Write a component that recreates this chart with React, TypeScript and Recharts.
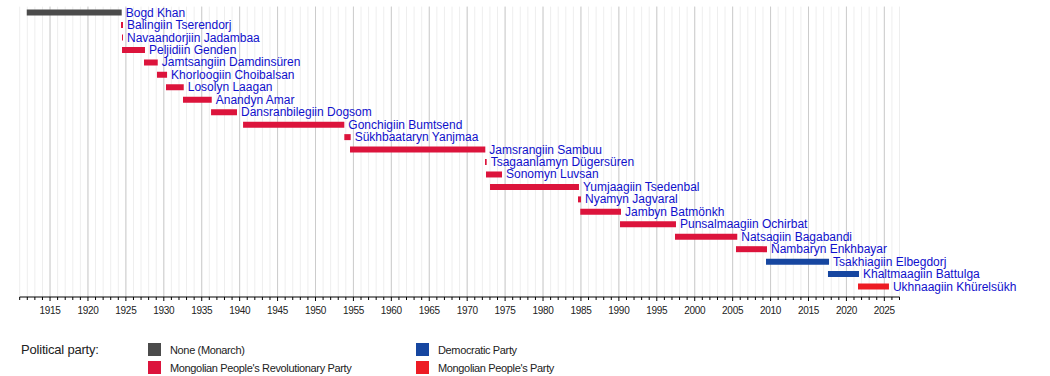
import { BarChart, Bar, XAxis, YAxis, CartesianGrid, Cell, LabelList } from "recharts";

const leaders = [
  "Bogd Khan",
  "Balingiin Tserendorj",
  "Navaandorjiin Jadambaa",
  "Peljidiin Genden",
  "Jamtsangiin Damdinsüren",
  "Khorloogiin Choibalsan",
  "Losolyn Laagan",
  "Anandyn Amar",
  "Dansranbilegiin Dogsom",
  "Gonchigiin Bumtsend",
  "Sükhbaataryn Yanjmaa",
  "Jamsrangiin Sambuu",
  "Tsagaanlamyn Dügersüren",
  "Sonomyn Luvsan",
  "Yumjaagiin Tsedenbal",
  "Nyamyn Jagvaral",
  "Jambyn Batmönkh",
  "Punsalmaagiin Ochirbat",
  "Natsagiin Bagabandi",
  "Nambaryn Enkhbayar",
  "Tsakhiagiin Elbegdorj",
  "Khaltmaagiin Battulga",
  "Ukhnaagiin Khürelsükh",
];

const termStart = [
  1911.93, 1924.36, 1924.49, 1924.49, 1927.39, 1929.1, 1930.29, 1932.53, 1936.23, 1940.45, 1953.8, 1954.55,
  1972.35, 1972.48, 1973.01, 1984.61, 1984.91, 1990.15, 1997.4, 2005.44, 2009.4, 2017.57, 2021.53,
];

const termEnd = [
  1924.45, 1924.62, 1924.62, 1927.52, 1929.2, 1930.43, 1932.63, 1936.32, 1939.65, 1953.8, 1954.64, 1972.39,
  1972.57, 1974.59, 1984.74, 1985.01, 1990.28, 1997.53, 2005.61, 2009.53, 2017.71, 2021.66, 2025.61,
];

const leaderParty = [
  "none", "mprp", "mprp", "mprp", "mprp", "mprp", "mprp", "mprp", "mprp", "mprp", "mprp", "mprp",
  "mprp", "mprp", "mprp", "mprp", "mprp", "mprp", "mprp", "mprp", "dp", "dp", "mpp",
];

const partyKeys = ["none", "mprp", "dp", "mpp"];
const partyNames = ["None (Monarch)", "Mongolian People's Revolutionary Party", "Democratic Party", "Mongolian People's Party"];
const partyColors = ["#4b4b4b", "#dc143c", "#1646a0", "#ed1c24"];

const majorYears = [1915, 1920, 1925, 1930, 1935, 1940, 1945, 1950, 1955, 1960, 1965, 1970, 1975, 1980, 1985, 1990, 1995, 2000, 2005, 2010, 2015, 2020, 2025];
const firstYear = 1911;
const lastYear = 2027;
const allYears = Array.from({ length: lastYear - firstYear + 1 }, (_, i) => firstYear + i);

const rows = leaders.map((name, i) => ({
  name,
  span: [termStart[i], termEnd[i]],
  party: leaderParty[i],
}));

const colorOf = (party: string) => partyColors[partyKeys.indexOf(party)];

const FONT = "'Liberation Sans', Arial, sans-serif";

function YearTick(props: any) {
  const { x, y, payload } = props;
  const major = majorYears.includes(payload.value);
  return (
    <g>
      <line x1={x} x2={x} y1={y} y2={y + (major ? 4 : 3)} stroke="#000" />
      {major && (
        <text x={x} y={y + 17} textAnchor="middle" fontSize={10} fill="#222" fontFamily={FONT} letterSpacing={-0.3}>
          {payload.value}
        </text>
      )}
    </g>
  );
}

function NameLabel(props: any) {
  const { x, y, width, height, value } = props;
  return (
    <text x={x + width + 4} y={y + height / 2 + 4} fontSize={12} fill="#1010cc" fontFamily={FONT}>
      {value}
    </text>
  );
}

export default function App() {
  return (
    <div style={{ position: "absolute", left: 0, top: 0, width: 1050, height: 376, background: "#fff", fontFamily: FONT }}>
      <BarChart
        width={1050}
        height={376}
        data={rows}
        layout="vertical"
        margin={{ top: 6.6, right: 150.5, left: 19.7, bottom: 49 }}
      >
        <CartesianGrid horizontal={false} stroke="#eeeeee" verticalValues={allYears} />
        <CartesianGrid horizontal={false} stroke="#cccccc" verticalValues={majorYears} />
        <XAxis
          type="number"
          domain={[firstYear, lastYear]}
          allowDataOverflow
          ticks={allYears}
          interval={0}
          tickSize={0}
          tickMargin={0}
          tickLine={false}
          axisLine={{ stroke: "#000" }}
          tick={<YearTick />}
          height={30}
        />
        <YAxis
          type="category"
          dataKey="name"
          width={0}
          tick={false}
          tickLine={false}
          axisLine={{ stroke: "#000" }}
          padding={{ top: 0, bottom: 4 }}
        />
        <Bar dataKey="span" barSize={6} isAnimationActive={false}>
          {rows.map((r, i) => (
            <Cell key={`cell-${i}`} fill={colorOf(r.party)} />
          ))}
          <LabelList dataKey="name" content={<NameLabel />} />
        </Bar>
      </BarChart>

      <div style={{ position: "absolute", left: 21, top: 342, fontSize: 13, lineHeight: "16px", color: "#222", letterSpacing: -0.2 }}>
        Political party:
      </div>
      {partyNames.map((label, i) => {
        const col = i < 2 ? 0 : 1;
        const row = i % 2;
        const left = col === 0 ? 148 : 416;
        const top = row === 0 ? 343 : 361;
        return (
          <div key={label}>
            <div style={{ position: "absolute", left, top, width: 13, height: 13, background: partyColors[i] }} />
            <div
              style={{
                position: "absolute",
                left: left + 22,
                top: top,
                fontSize: 11,
                lineHeight: "15px",
                color: "#222",
                letterSpacing: -0.35,
                whiteSpace: "nowrap",
              }}
            >
              {label}
            </div>
          </div>
        );
      })}
    </div>
  );
}
